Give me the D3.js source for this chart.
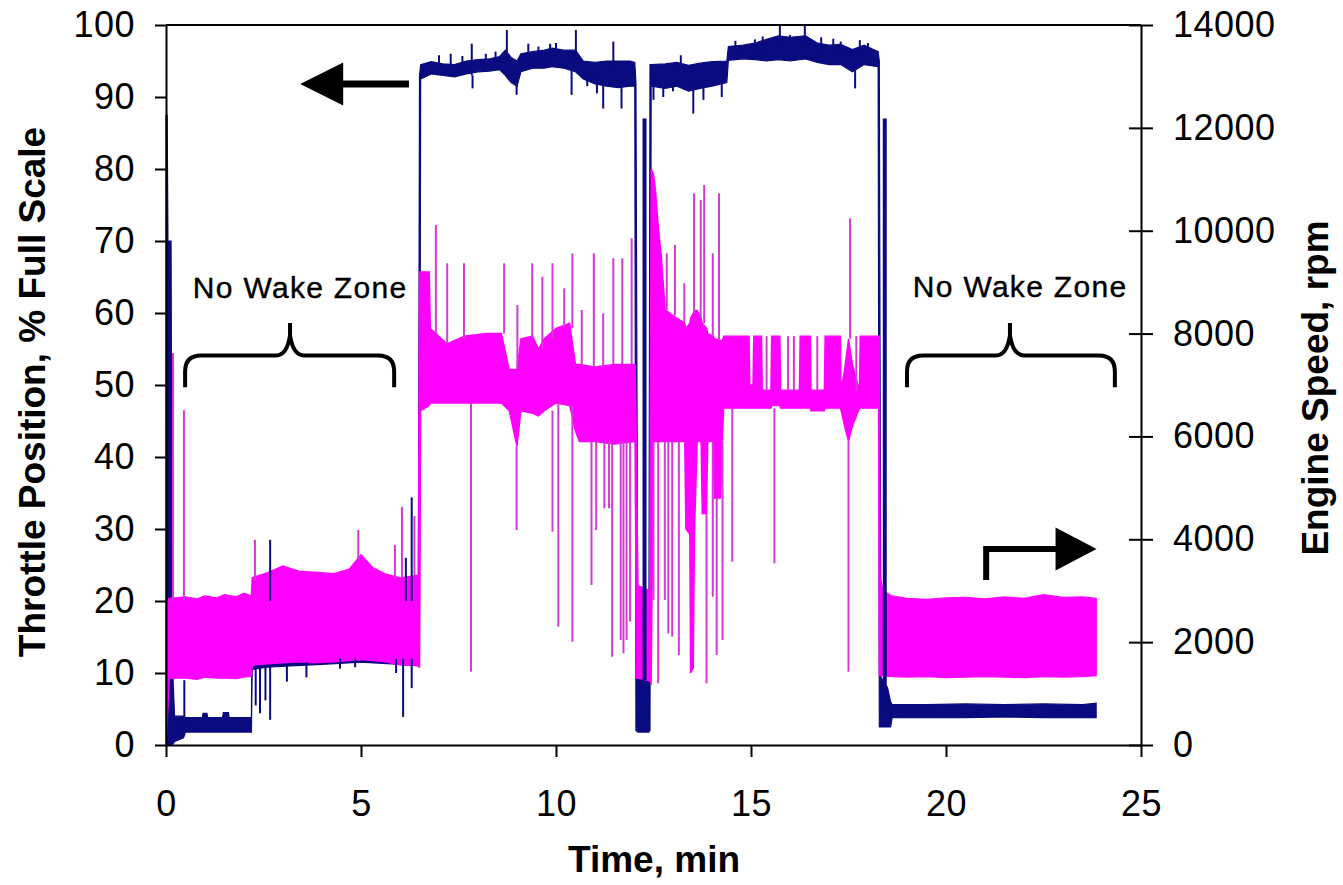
<!DOCTYPE html>
<html><head><meta charset="utf-8">
<script src="https://cdn.jsdelivr.net/npm/d3@7"></script>
<style>
body{margin:0;background:#fff;}
text{font-family:"Liberation Sans",Arial,Helvetica,sans-serif;fill:#000;}
</style>
</head><body>
<svg id="c" width="1343" height="885"></svg>
<script>
// ---------- tick values ----------
const xTicks = [0, 5, 10, 15, 20, 25];
const leftTicks = [0, 10, 20, 30, 40, 50, 60, 70, 80, 90, 100];
const rightTicks = [0, 2000, 4000, 6000, 8000, 10000, 12000, 14000];

// ---------- Throttle position (% full scale): envelope [time, low, high] ----------
const throttleEnvelope = [
  [0, 0, 87.5], [0.03, 0, 87.5], [0.05, 0, 70], [0.13, 0, 70], [0.16, 0, 12],
  [0.22, 0.5, 4], [0.45, 1, 4], [0.5, 1.8, 3.8], [0.93, 1.8, 3.8], [0.95, 1.8, 4.4],
  [1.05, 1.8, 4.4], [1.07, 1.8, 3.8], [1.45, 1.8, 3.8], [1.47, 1.8, 4.5], [1.6, 1.8, 4.5],
  [1.62, 1.8, 3.8], [2.19, 1.8, 3.8], [2.21, 10.5, 20], [2.6, 10.8, 20.5], [3.2, 11, 21],
  [4.0, 11.2, 21], [5.0, 11.5, 21.5], [6.0, 11.2, 21], [6.47, 11, 21], [6.5, 11, 93],
  [6.53, 92.5, 94.5], [6.8, 93.2, 94.9], [7.1, 93.0, 94.6], [7.4, 92.8, 94.5], [7.7, 93.2, 95.0],
  [8.0, 93.5, 95.2], [8.3, 93.6, 95.3], [8.55, 93.8, 95.6], [8.7, 93.0, 96.5], [8.85, 92.0, 95.5],
  [9.0, 91.5, 95.0], [9.1, 93.5, 96.0], [9.4, 94.0, 96.3], [9.7, 94.0, 96.5], [9.9, 94.2, 96.8],
  [10.2, 94.0, 96.5], [10.5, 93.5, 96.5], [10.7, 92.5, 95.0], [11.0, 91.8, 94.8], [11.3, 91.5, 95.0],
  [11.6, 91.3, 95.0], [11.9, 91.5, 95.0], [12.02, 91.5, 94.8],
  [12.05, 2, 92], [12.1, 1.8, 9.5], [12.38, 1.8, 9.5], [12.41, 2, 94.5], [12.44, 91.5, 94.5],
  [12.8, 91.2, 94.6], [13.1, 91.5, 94.8], [13.4, 90.8, 94.4], [13.7, 91.2, 94.7], [14.0, 91.5, 94.9],
  [14.38, 92, 95], [14.42, 95.1, 97], [14.8, 95.3, 97.2], [15.1, 95.2, 97.5], [15.4, 95, 98],
  [15.7, 95.2, 98.5], [16.0, 95, 98.3], [16.4, 95.3, 98.5], [16.7, 94.8, 97.5], [17.0, 94.5, 97.2],
  [17.3, 94.5, 97.3], [17.6, 93.5, 96.6], [17.9, 94.5, 97.2], [18.26, 94.2, 96.3], [18.29, 2.5, 95],
  [18.33, 2.5, 9.4], [18.5, 2.5, 8], [18.58, 2.5, 6], [18.62, 3.8, 5.6], [19.5, 3.8, 5.6],
  [20.5, 3.8, 5.7], [21.5, 3.9, 5.6], [22.5, 3.8, 5.7], [23.5, 3.8, 5.6], [23.85, 3.8, 5.8]
];
// short throttle excursions [time, from, to]
const throttleSpikes = [
  [0.47, 2, 9], [2.3, 11, 5.5], [2.41, 11, 4.4], [2.55, 11, 6.2], [2.67, 11, 3.5], [2.67, 20, 28.5],
  [3.1, 11, 8.8], [3.6, 11.5, 9.4], [4.46, 12, 10.6], [4.85, 12, 10.8], [5.9, 12, 10],
  [6.08, 12, 3.9], [6.3, 12, 7.9], [6.3, 20, 34.4], [6.15, 20, 26],
  [7.84, 93, 97.4], [7.86, 93, 91.2], [8.74, 95, 99.3], [8.99, 93, 90.3], [9.29, 95, 97.4],
  [9.85, 95, 97.4], [10.4, 94, 90.3], [10.51, 95, 99.3], [11.21, 92, 88.4], [11.47, 94, 97.7],
  [11.68, 92, 88.4], [12.5, 92, 89.6], [12.75, 92, 90], [13.52, 92, 87.7], [13.78, 92, 89.6],
  [14.25, 92, 90], [15.74, 97, 99.9], [16.38, 97, 99.9], [17.11, 96, 98.1], [17.67, 94.5, 91.2],
  [17.79, 96, 97.9],
  [7.0, 94, 95.8], [7.3, 94, 96], [7.6, 94, 95.7], [8.2, 94, 96], [8.45, 94.5, 96.3], [9.55, 95, 97],
  [10.0, 95, 97.5], [10.8, 93, 91.5], [11.05, 93, 90.5], [13.0, 93, 90.8], [13.2, 94, 95.8],
  [14.6, 96, 97.8], [15.1, 96, 98], [15.3, 96, 98.4], [16.0, 96, 98.6], [16.8, 96, 98.3],
  [17.3, 95.5, 97.7], [18.0, 95.5, 97.5]
];
// brief throttle blips during the low-speed dips [time, from, to]
const throttleSurges = [[12.27, 9, 87], [18.43, 5, 87]];

// ---------- Engine speed (rpm): envelope [time, low, high] ----------
const rpmEnvelope = [
  [0, 0, 1400], [0.04, 600, 2800], [0.08, 1300, 2850], [0.5, 1300, 2880], [0.8, 1280, 2840],
  [1.0, 1320, 2900], [1.3, 1300, 2860], [1.5, 1300, 2920], [1.8, 1290, 2880], [2.0, 1320, 2950],
  [2.19, 1340, 2900], [2.21, 1550, 3250], [2.6, 1580, 3350], [3.0, 1600, 3480], [3.4, 1620, 3380],
  [3.8, 1600, 3360], [4.3, 1620, 3330], [4.7, 1640, 3420], [5.0, 1660, 3700], [5.3, 1640, 3450],
  [5.6, 1620, 3330], [6.0, 1560, 3250], [6.47, 1550, 3300],
  [6.5, 1500, 9200], [6.53, 6500, 9200], [6.75, 6600, 9200], [6.78, 6650, 8100], [7.2, 6650, 7800],
  [7.65, 6650, 7950], [8.2, 6650, 8000], [8.6, 6650, 8000], [8.8, 6500, 7300], [9.0, 5800, 7300],
  [9.1, 6500, 7900], [9.4, 6450, 7950], [9.55, 6400, 7700], [9.7, 6500, 7900], [10.0, 6650, 8100],
  [10.35, 6600, 8200], [10.5, 6100, 7400], [10.6, 5900, 7400], [11.0, 5900, 7350], [11.5, 5850, 7400],
  [12.03, 5900, 7400], [12.06, 1300, 6000], [12.1, 1300, 3100], [12.4, 1250, 3000], [12.44, 1200, 11200],
  [12.5, 5900, 11100], [12.55, 5900, 10800], [12.62, 5900, 10100], [12.7, 5900, 9500], [12.8, 5900, 8460],
  [13.0, 5900, 8350], [13.3, 5900, 8200], [13.33, 4200, 8100], [13.43, 4100, 8200], [13.45, 1400, 8300],
  [13.52, 1500, 8400], [13.55, 4100, 8450], [13.62, 5900, 8450], [13.72, 5900, 8300], [13.75, 4500, 8200],
  [13.86, 4500, 8100], [13.89, 5900, 8000], [14.03, 5900, 7950], [14.06, 4800, 7900], [14.22, 4800, 7870],
  [14.26, 5900, 7850], [14.3, 6550, 7950], [14.95, 6550, 7950], [14.97, 6550, 7000], [15.05, 6550, 7000],
  [15.07, 6550, 7950], [15.27, 6550, 7950], [15.29, 6550, 6900], [15.51, 6550, 6900], [15.53, 6600, 7950],
  [15.74, 6600, 7950], [15.76, 6550, 6900], [16.24, 6550, 6900], [16.26, 6550, 7950], [16.52, 6550, 7950],
  [16.54, 6500, 6900], [16.88, 6500, 6900], [16.9, 6550, 7950], [17.29, 6550, 7950], [17.31, 6500, 6900],
  [17.4, 6200, 7300], [17.5, 5900, 7900], [17.6, 6200, 7400], [17.78, 6550, 6900], [17.8, 6550, 7950],
  [18.27, 6550, 7950], [18.29, 1350, 7950], [18.31, 1350, 3300], [18.38, 1350, 3000], [18.6, 1330, 2900],
  [19.0, 1320, 2850], [19.5, 1330, 2830], [20.0, 1310, 2860], [20.5, 1320, 2870], [21.0, 1330, 2840],
  [21.5, 1320, 2880], [22.0, 1310, 2850], [22.5, 1330, 2920], [23.0, 1320, 2870], [23.5, 1330, 2880],
  [23.85, 1350, 2850]
];
// short engine-speed excursions [time, from, to]
const rpmSpikes = [
  [0.18, 2800, 7620], [0.46, 2800, 6510], [2.28, 3200, 3990], [4.93, 3600, 4180], [5.87, 3250, 3890],
  [6.05, 3250, 4630], [6.37, 3300, 4450],
  [6.92, 8000, 10110], [7.21, 7800, 9366], [7.64, 7900, 9366], [8.67, 8000, 9366], [9.01, 7300, 8555],
  [9.39, 7900, 9366], [9.65, 7700, 9106], [9.91, 7900, 9366], [10.21, 8100, 8880], [10.42, 8100, 9560],
  [10.66, 7400, 8458], [10.97, 7350, 9560], [11.21, 7350, 8394], [11.47, 7400, 9464], [11.7, 7400, 9464],
  [11.94, 7400, 9853],
  [7.82, 6650, 1426], [8.99, 5800, 4180], [9.91, 6500, 4148], [10.06, 6650, 2301], [10.42, 6600, 2009],
  [10.91, 5900, 3111], [11.03, 5900, 4180], [11.24, 5900, 4602], [11.36, 5900, 4602], [11.44, 5900, 1717],
  [11.66, 5900, 2042], [11.73, 5900, 1783], [11.81, 5900, 2042], [11.9, 5900, 2398],
  [12.84, 8460, 9560], [13.05, 8350, 9722], [13.29, 8200, 8977], [13.54, 8400, 10727], [13.71, 8300, 10597],
  [13.8, 8200, 10889], [14.02, 7950, 9560], [14.18, 7870, 10727], [17.54, 7900, 10241],
  [12.5, 5900, 2820], [12.62, 5900, 1199], [12.79, 5900, 2820], [12.88, 5900, 2171], [12.98, 5900, 2106],
  [13.15, 5900, 1750], [13.86, 4500, 1199], [14.02, 5900, 2884], [14.12, 4800, 1750], [14.27, 5900, 2042],
  [14.52, 6550, 3564], [15.6, 6550, 3532], [17.5, 5900, 1426],
  [15.4, 6900, 7950], [15.95, 6900, 7950], [16.1, 6900, 7950], [16.7, 6900, 7950], [17.7, 6900, 7950]
];

// ---------- annotations (data units) ----------
const zoneLabels = [{t: 3.44, v: 62.1, text: "No Wake Zone"}, {t: 21.9, v: 62.2, text: "No Wake Zone"}];
const braces = [{t0: 0.49, t1: 5.85, tip: 3.18}, {t0: 19.0, t1: 24.33, tip: 21.64}];
const leftArrow = {tipT: 3.44, tailT: 6.23, v: 91.8};          // throttle axis
const rightArrow = {cornerT: 21.03, tipT: 23.86, rpmLow: 3208, rpmHigh: 3811};

// ---------- setup ----------
const NAVY = "#0b0b80", PINK = "#ff00ff", PINK_LINE = "#d43ad4";
const svg = d3.select("#c");
const x = d3.scaleLinear().domain([0, 25]).range([166, 1141]);
const yL = d3.scaleLinear().domain([0, 100]).range([745, 25]);
const yR = d3.scaleLinear().domain([0, 14000]).range([745, 25]);

const plot = svg.append("g");

const toObj = r => ({t: r[0], lo: r[1], hi: r[2]});
// throttle band (drawn first)
plot.append("path").datum(throttleEnvelope.map(toObj))
  .attr("d", d3.area().x(d => x(d.t)).y0(d => yL(d.lo)).y1(d => yL(d.hi)))
  .attr("fill", NAVY).attr("stroke", NAVY).attr("stroke-width", 1.2);

// engine speed band
plot.append("path").datum(rpmEnvelope.map(toObj))
  .attr("d", d3.area().x(d => x(d.t)).y0(d => yR(d.lo)).y1(d => yR(d.hi)))
  .attr("fill", PINK).attr("stroke", PINK).attr("stroke-width", 1.4);

plot.append("g").selectAll("line").data(rpmSpikes).join("line")
  .attr("x1", d => x(d[0])).attr("x2", d => x(d[0]))
  .attr("y1", d => yR(d[1])).attr("y2", d => yR(d[2]))
  .attr("stroke", PINK_LINE).attr("stroke-width", 2);

plot.append("g").selectAll("line").data(throttleSpikes).join("line")
  .attr("x1", d => x(d[0])).attr("x2", d => x(d[0]))
  .attr("y1", d => yL(d[1])).attr("y2", d => yL(d[2]))
  .attr("stroke", NAVY).attr("stroke-width", 2);

plot.append("g").selectAll("line").data(throttleSurges).join("line")
  .attr("x1", d => x(d[0])).attr("x2", d => x(d[0]))
  .attr("y1", d => yL(d[1])).attr("y2", d => yL(d[2]))
  .attr("stroke", NAVY).attr("stroke-width", 4);

// ---------- axes ----------
const fontSize = "36px";
function styleAxis(g) {
  g.selectAll("path.domain").attr("stroke", "#000").attr("stroke-width", 2);
  g.selectAll(".tick line").attr("stroke", "#000").attr("stroke-width", 2);
  g.selectAll(".tick text").attr("fill", "#000")
    .style("font-size", fontSize).style("letter-spacing", "0.5px")
    .style("font-family", '"Liberation Sans", Arial, sans-serif');
}

const gL = svg.append("g").attr("transform", "translate(166,0)")
  .call(d3.axisLeft(yL).tickValues(leftTicks).tickSizeInner(11).tickSizeOuter(0).tickPadding(20));
styleAxis(gL);

const gR = svg.append("g").attr("transform", "translate(1141,0)")
  .call(d3.axisRight(yR).tickValues(rightTicks).tickFormat(d => String(d))
    .tickSizeInner(12).tickSizeOuter(0).tickPadding(20));
gR.selectAll(".tick line").attr("x1", -12);
styleAxis(gR);

const gB = svg.append("g").attr("transform", "translate(0,745)")
  .call(d3.axisBottom(x).tickValues(xTicks).tickFormat(d => String(d))
    .tickSizeInner(12).tickSizeOuter(0).tickPadding(33));
styleAxis(gB);

// top frame line
svg.append("line").attr("x1", x(0)).attr("x2", x(25)).attr("y1", yL(100)).attr("y2", yL(100))
  .attr("stroke", "#000").attr("stroke-width", 2);

// ---------- axis titles ----------
svg.append("text").attr("transform", "translate(45,392) rotate(-90)")
  .attr("text-anchor", "middle").style("font-size", "37px").style("font-weight", "bold")
  .text("Throttle Position, % Full Scale");
svg.append("text").attr("transform", "translate(1328,388) rotate(-90)")
  .attr("text-anchor", "middle").style("font-size", "37px").style("font-weight", "bold")
  .text("Engine Speed, rpm");
svg.append("text").attr("x", 654).attr("y", 872)
  .attr("text-anchor", "middle").style("font-size", "37px").style("font-weight", "bold")
  .text("Time, min");

// ---------- annotations ----------
zoneLabels.forEach(z => {
  svg.append("text").attr("x", x(z.t)).attr("y", yL(z.v)).attr("text-anchor", "middle")
    .style("font-size", "30px").style("letter-spacing", "1.3px")
    .attr("stroke", "#000").attr("stroke-width", 0.4).text(z.text);
});

braces.forEach(b => {
  const x0 = x(b.t0), x1 = x(b.t1), xt = x(b.tip);
  const yb = yL(49.7), yh = yL(54.1), ym = yL(56.9), yt = yL(58.6);
  const r = 16;
  const p = d3.path();
  p.moveTo(x0, yb); p.lineTo(x0, yh + r); p.quadraticCurveTo(x0, yh, x0 + r, yh);
  p.lineTo(xt - 14, yh); p.quadraticCurveTo(xt - 3, yh, xt, ym); p.lineTo(xt, yt);
  p.moveTo(xt, ym); p.quadraticCurveTo(xt + 3, yh, xt + 14, yh);
  p.lineTo(x1 - r, yh); p.quadraticCurveTo(x1, yh, x1, yh + r); p.lineTo(x1, yb);
  svg.append("path").attr("d", p.toString()).attr("fill", "none")
    .attr("stroke", "#000").attr("stroke-width", 4);
});

// left-pointing arrow (throttle axis)
{
  const tx = x(leftArrow.tipT), ty = yL(leftArrow.v), headLen = 43, headHalf = 21.5;
  svg.append("line").attr("x1", tx + headLen - 2).attr("x2", x(leftArrow.tailT))
    .attr("y1", ty).attr("y2", ty).attr("stroke", "#000").attr("stroke-width", 7);
  svg.append("path").attr("d", `M${tx},${ty}L${tx + headLen},${ty - headHalf}L${tx + headLen},${ty + headHalf}Z`)
    .attr("fill", "#000");
}
// bent right-pointing arrow (engine speed axis)
{
  const cx = x(rightArrow.cornerT), tx = x(rightArrow.tipT);
  const y0 = yR(rightArrow.rpmLow), y1 = yR(rightArrow.rpmHigh), headLen = 41, headHalf = 21.5;
  svg.append("path").attr("d", `M${cx},${y0}L${cx},${y1}L${tx - headLen + 2},${y1}`)
    .attr("fill", "none").attr("stroke", "#000").attr("stroke-width", 6).attr("stroke-linejoin", "miter");
  svg.append("path").attr("d", `M${tx},${y1}L${tx - headLen},${y1 - headHalf}L${tx - headLen},${y1 + headHalf}Z`)
    .attr("fill", "#000");
}
</script>
</body></html>
